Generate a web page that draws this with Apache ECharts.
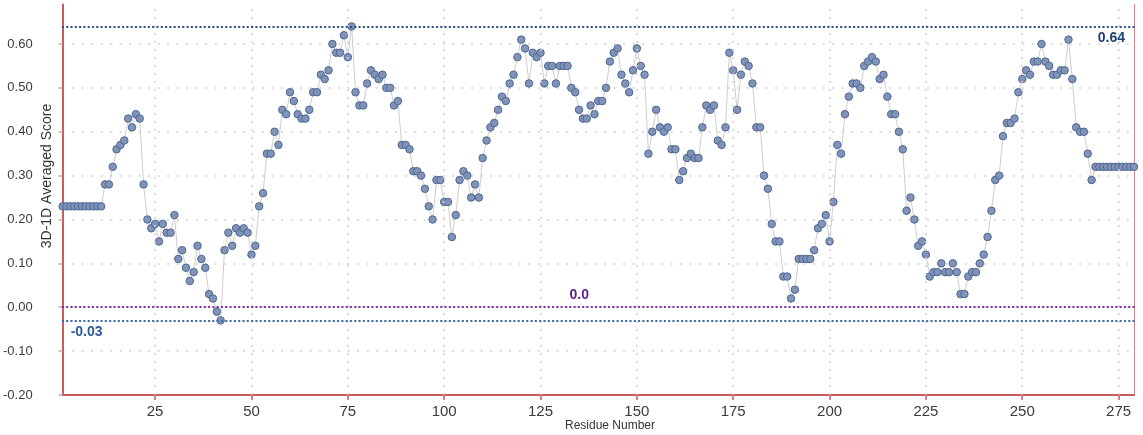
<!DOCTYPE html>
<html>
<head>
<meta charset="utf-8">
<title>3D-1D Averaged Score</title>
<script src="https://cdn.jsdelivr.net/npm/echarts@6/dist/echarts.min.js"></script>
<style>
  html, body { margin: 0; padding: 0; background: #ffffff; }
  #chart { width: 1143px; height: 435px; }
</style>
</head>
<body>
<div id="chart"></div>
<script>
// Residue numbering starts at 1; one averaged score per residue.
const firstResidue = 1;

// 3D-1D averaged score per residue (residues 1..279)
const scores = [
  0.23, 0.23, 0.23, 0.23, 0.23, 0.23, 0.23, 0.23, 0.23, 0.23,
  0.23, 0.28, 0.28, 0.32, 0.36, 0.37, 0.38, 0.43, 0.41, 0.44,
  0.43, 0.28, 0.20, 0.18, 0.19, 0.15, 0.19, 0.17, 0.17, 0.21,
  0.11, 0.13, 0.09, 0.06, 0.08, 0.14, 0.11, 0.09, 0.03, 0.02,
  -0.01, -0.03, 0.13, 0.17, 0.14, 0.18, 0.17, 0.18, 0.17, 0.12,
  0.14, 0.23, 0.26, 0.35, 0.35, 0.40, 0.37, 0.45, 0.44, 0.49,
  0.47, 0.44, 0.43, 0.43, 0.45, 0.49, 0.49, 0.53, 0.52, 0.54,
  0.60, 0.58, 0.58, 0.62, 0.57, 0.64, 0.49, 0.46, 0.46, 0.51,
  0.54, 0.53, 0.52, 0.53, 0.50, 0.50, 0.46, 0.47, 0.37, 0.37,
  0.36, 0.31, 0.31, 0.30, 0.27, 0.23, 0.20, 0.29, 0.29, 0.24,
  0.24, 0.16, 0.21, 0.29, 0.31, 0.30, 0.25, 0.28, 0.25, 0.34,
  0.38, 0.41, 0.42, 0.45, 0.48, 0.47, 0.51, 0.53, 0.57, 0.61,
  0.59, 0.51, 0.58, 0.57, 0.58, 0.51, 0.55, 0.55, 0.51, 0.55,
  0.55, 0.55, 0.50, 0.49, 0.45, 0.43, 0.43, 0.46, 0.44, 0.47,
  0.47, 0.50, 0.56, 0.58, 0.59, 0.53, 0.51, 0.49, 0.54, 0.59,
  0.55, 0.53, 0.35, 0.40, 0.45, 0.41, 0.40, 0.41, 0.36, 0.36,
  0.29, 0.31, 0.34, 0.35, 0.34, 0.34, 0.41, 0.46, 0.45, 0.46,
  0.38, 0.37, 0.41, 0.58, 0.54, 0.45, 0.53, 0.56, 0.55, 0.51,
  0.41, 0.41, 0.30, 0.27, 0.19, 0.15, 0.15, 0.07, 0.07, 0.02,
  0.04, 0.11, 0.11, 0.11, 0.11, 0.13, 0.18, 0.19, 0.21, 0.15,
  0.24, 0.37, 0.35, 0.44, 0.48, 0.51, 0.51, 0.50, 0.55, 0.56,
  0.57, 0.56, 0.52, 0.53, 0.48, 0.44, 0.44, 0.40, 0.36, 0.22,
  0.25, 0.20, 0.14, 0.15, 0.12, 0.07, 0.08, 0.08, 0.10, 0.08,
  0.08, 0.10, 0.08, 0.03, 0.03, 0.07, 0.08, 0.08, 0.10, 0.12,
  0.16, 0.22, 0.29, 0.30, 0.39, 0.42, 0.42, 0.43, 0.49, 0.52,
  0.54, 0.53, 0.56, 0.56, 0.60, 0.56, 0.55, 0.53, 0.53, 0.54,
  0.54, 0.61, 0.52, 0.41, 0.40, 0.40, 0.35, 0.29, 0.32, 0.32,
  0.32, 0.32, 0.32, 0.32, 0.32, 0.32, 0.32, 0.32, 0.32
];

// Residue tick labels along the bottom axis
const residueTicks = [25, 50, 75, 100, 125, 150, 175, 200, 225, 250, 275];

// Score axis range and step
const scoreMin = -0.2;
const scoreMax = 0.69;
const scoreStep = 0.1;

// Reference levels: maximum, zero and minimum
const refValues = [0.64, 0.0, -0.03];
const refLabels = ['0.64', '0.0', '-0.03'];
const refColors = ['#244a7c', '#7a2a9e', '#3566a6'];
const refLabelColors = ['#1d3f6e', '#5e1f8c', '#2c5c9c'];
const refLabelPos = ['insideEndBottom', 'insideMiddleTop', 'insideStartBottom'];

const AXIS_RED = '#c85a62';
const FONT = "'Liberation Sans Narrow', 'Liberation Sans', Arial, sans-serif";

const points = scores.map((v, i) => [firstResidue + i, v]);
const lastResidue = firstResidue + scores.length - 1;

const gridMarks = residueTicks.map(r => ({
  xAxis: r,
  label: { show: false },
  lineStyle: { color: '#cfcfcf', width: 1.5, type: [2, 6] }
}));

const refMarks = refValues.map((v, i) => ({
  yAxis: v,
  lineStyle: { color: refColors[i], width: 2, type: [0.5, 3.8], cap: 'round' },
  label: {
    show: true,
    formatter: refLabels[i],
    position: refLabelPos[i],
    color: refLabelColors[i],
    fontFamily: FONT,
    fontWeight: 'bold',
    fontSize: 14,
    // the zero label sits a little left of the line's midpoint
    padding: i === 1 ? [0, 38, 0, 0] : 0,
    distance: i === 0 ? [9, 5] : (i === 2 ? [8, 5] : [0, 5])
  }
}));

const chart = echarts.init(document.getElementById('chart'), null, { renderer: 'canvas' });

chart.setOption({
  animation: false,
  backgroundColor: '#ffffff',
  grid: { left: 62, right: 9, top: 4.5, bottom: 40, containLabel: false },
  xAxis: {
    type: 'value',
    min: firstResidue,
    max: lastResidue,
    axisLine: { show: true, onZero: false, lineStyle: { color: AXIS_RED, width: 2 } },
    axisTick: { show: true, customValues: residueTicks, length: 5, lineStyle: { color: AXIS_RED, width: 1.5 } },
    axisLabel: {
      show: true,
      customValues: residueTicks,
      margin: 9,
      color: '#3a3a3a',
      fontFamily: FONT,
      fontSize: 15
    },
    splitLine: { show: false }
  },
  yAxis: [
    {
      type: 'value',
      min: scoreMin,
      max: scoreMax,
      interval: scoreStep,
      axisLine: { show: true, onZero: false, lineStyle: { color: AXIS_RED, width: 2 } },
      axisTick: { show: true, length: 4, lineStyle: { color: '#b0b0b0', width: 1.5 } },
      axisLabel: {
        margin: 30,
        color: '#3a3a3a',
        fontFamily: FONT,
        fontSize: 13,
        showMaxLabel: false,
        formatter: v => v.toFixed(2)
      },
      splitLine: {
        show: true,
        showMinLine: false,
        showMaxLine: false,
        lineStyle: { color: '#cfcfcf', width: 1.5, type: [2, 7.5] }
      }
    },
    {
      type: 'value',
      position: 'right',
      min: scoreMin,
      max: scoreMax,
      axisLine: { show: true, onZero: false, lineStyle: { color: '#d9868c', width: 1 } },
      axisTick: { show: false },
      axisLabel: { show: false },
      splitLine: { show: false }
    }
  ],
  graphic: [
    {
      type: 'text',
      x: 47,
      y: 176,
      rotation: Math.PI / 2,
      style: {
        text: '3D-1D Averaged Score',
        fill: '#333333',
        font: '14px ' + FONT,
        textAlign: 'center',
        textVerticalAlign: 'middle'
      }
    },
    {
      type: 'text',
      x: 610,
      y: 426,
      style: {
        text: 'Residue Number',
        fill: '#333333',
        font: '12px ' + FONT,
        textAlign: 'center',
        textVerticalAlign: 'middle'
      }
    }
  ],
  series: [
    {
      name: 'grid',
      type: 'line',
      data: [],
      silent: true,
      markLine: {
        silent: true,
        symbol: ['none', 'none'],
        animation: false,
        data: gridMarks
      }
    },
    {
      name: '3D-1D Averaged Score',
      type: 'line',
      data: points,
      symbol: 'circle',
      symbolSize: 7.5,
      showAllSymbol: true,
      lineStyle: { color: '#cdcdcd', width: 1 },
      itemStyle: { color: '#8194b8', borderColor: '#4c6796', borderWidth: 1 },
      markLine: {
        silent: true,
        symbol: ['none', 'none'],
        animation: false,
        data: refMarks
      },
      z: 3
    }
  ]
});
</script>
</body>
</html>
